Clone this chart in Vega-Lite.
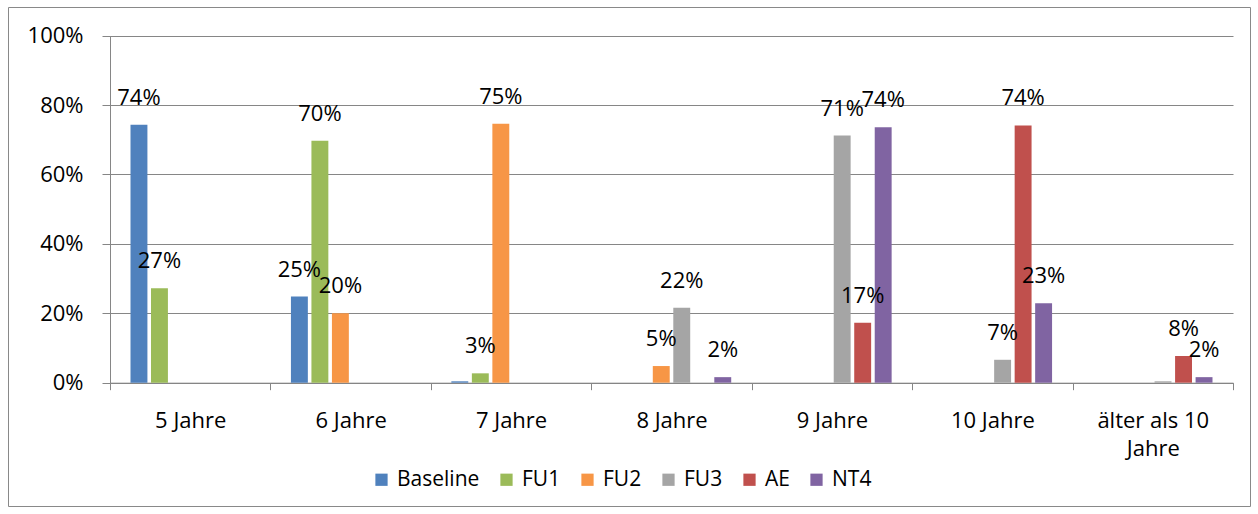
{
  "$schema": "https://vega.github.io/schema/vega-lite/v6.json",
  "width": 1242,
  "height": 499,
  "autosize": {"type": "none"},
  "padding": {"left": 8, "top": 7, "right": 8, "bottom": 8},
  "background": "white",
  "config": {
    "view": {"stroke": "#898989", "strokeWidth": 1, "fill": "white"},
    "font": "Open Sans",
    "axis": {"labelFont": "Open Sans", "labelFontSize": 22, "labelColor": "black", "domainColor": "#868686", "tickColor": "#868686", "gridColor": "#868686", "domainWidth": 1, "tickWidth": 1, "gridWidth": 1},
    "legend": {"labelFont": "Open Sans", "labelFontSize": 21, "labelColor": "black"}
  },
  "data": {
    "values": [
      {"cat": "5 Jahre", "series": "Baseline", "value": 0.743},
      {"cat": "5 Jahre", "series": "FU1", "value": 0.272},
      {"cat": "6 Jahre", "series": "Baseline", "value": 0.248},
      {"cat": "6 Jahre", "series": "FU1", "value": 0.697},
      {"cat": "6 Jahre", "series": "FU2", "value": 0.2},
      {"cat": "7 Jahre", "series": "Baseline", "value": 0.004},
      {"cat": "7 Jahre", "series": "FU1", "value": 0.027},
      {"cat": "7 Jahre", "series": "FU2", "value": 0.746},
      {"cat": "8 Jahre", "series": "FU2", "value": 0.048},
      {"cat": "8 Jahre", "series": "FU3", "value": 0.216},
      {"cat": "8 Jahre", "series": "NT4", "value": 0.016},
      {"cat": "9 Jahre", "series": "FU3", "value": 0.712},
      {"cat": "9 Jahre", "series": "AE", "value": 0.173},
      {"cat": "9 Jahre", "series": "NT4", "value": 0.736},
      {"cat": "10 Jahre", "series": "FU3", "value": 0.066},
      {"cat": "10 Jahre", "series": "AE", "value": 0.741},
      {"cat": "10 Jahre", "series": "NT4", "value": 0.229},
      {"cat": "älter als 10 Jahre", "series": "FU3", "value": 0.004},
      {"cat": "älter als 10 Jahre", "series": "AE", "value": 0.077},
      {"cat": "älter als 10 Jahre", "series": "NT4", "value": 0.016}
    ]
  },
  "encoding": {
    "x": {
      "field": "cat", "type": "nominal",
      "sort": ["5 Jahre", "6 Jahre", "7 Jahre", "8 Jahre", "9 Jahre", "10 Jahre", "älter als 10 Jahre"],
      "scale": {"range": [102, 1225], "paddingInner": 0, "paddingOuter": 0},
      "axis": {
        "title": null, "orient": "bottom", "offset": -123.3,
        "ticks": true, "tickBand": "extent",
        "tickSize": 7, "labelPadding": 21, "labelAngle": 0, "labelLimit": 400,
        "labelLineHeight": 28,
        "labelExpr": "datum.label == 'älter als 10 Jahre' ? ['älter als 10', 'Jahre'] : datum.label",
        "grid": false
      }
    },
    "xOffset": {
      "field": "series", "type": "nominal",
      "sort": ["Baseline", "FU1", "FU2", "FU3", "AE", "NT4"],
      "scale": {"domain": ["Baseline", "FU1", "FU2", "FU3", "AE", "NT4"], "paddingInner": 0.175, "paddingOuter": 1.1}
    },
    "y": {
      "field": "value", "type": "quantitative",
      "scale": {"domain": [0, 1], "range": [375.7, 28.6], "nice": false},
      "axis": {
        "title": null, "orient": "left", "offset": -102,
        "values": [0, 0.2, 0.4, 0.6, 0.8, 1], "format": ".0%",
        "ticks": true, "tickSize": 8, "labelPadding": 19, "grid": true
      }
    }
  },
  "layer": [
    {
      "mark": {"type": "bar"},
      "encoding": {
        "color": {
          "field": "series", "type": "nominal",
          "sort": ["Baseline", "FU1", "FU2", "FU3", "AE", "NT4"],
          "scale": {"domain": ["Baseline", "FU1", "FU2", "FU3", "AE", "NT4"], "range": ["#4F81BD", "#9BBB59", "#F79646", "#A5A5A5", "#C0504D", "#8064A2"]},
          "legend": {
            "title": null, "orient": "none", "direction": "horizontal",
            "legendX": 363, "legendY": 462,
            "symbolType": "square", "symbolSize": 150, "symbolStrokeWidth": 0,
            "labelOffset": 5, "columnPadding": 16
          }
        }
      }
    },
    {
      "transform": [{"filter": "datum.value >= 0.01"}],
      "mark": {"type": "text", "baseline": "alphabetic", "align": "center", "dy": -20, "fontSize": 22, "font": "Open Sans", "color": "black"},
      "encoding": {
        "text": {"field": "value", "type": "quantitative", "format": ".0%"}
      }
    }
  ]
}
